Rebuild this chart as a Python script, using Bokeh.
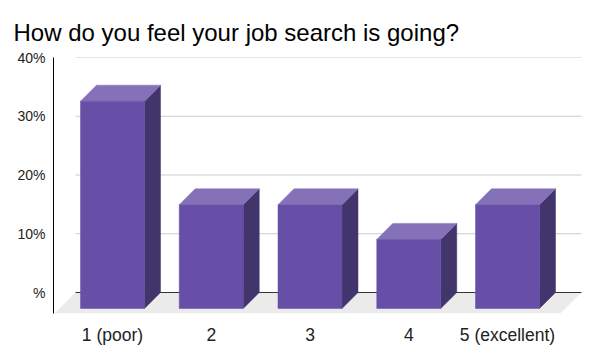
from bokeh.plotting import figure
from bokeh.models import FixedTicker, Range1d
from bokeh.embed import file_html
from bokeh.resources import INLINE

# ---- data ----
title_text = "How do you feel your job search is going?"
categories = ["1 (poor)", "2", "3", "4", "5 (excellent)"]
values = [35.29, 17.65, 17.65, 11.76, 17.65]   # percent of responses
y_ticks = [0, 10, 20, 30, 40]
y_tick_labels = ["%", "10%", "20%", "30%", "40%"]

# ---- layout constants ----
W, H = 600, 352
B_LEFT, B_RIGHT, B_TOP, B_BOTTOM = 53, 10, 57, 39
FW = W - B_LEFT - B_RIGHT
FH = H - B_TOP - B_BOTTOM
PX_X = 98.75                 # pixels per category step
PX_Y = (292 - 57) / 40.0     # pixels per percent
x_start = 1 - (112 - B_LEFT) / PX_X
x_end = x_start + FW / PX_X
y_end = 40.0
y_start = y_end - FH / PX_Y


def dx(px):
    return px / PX_X


def dy(px):
    return px / PX_Y


def X(px):
    return x_start + (px - B_LEFT) / PX_X


FRONT = "#674ea7"
TOP = "#8571b8"
SIDE = "#42356c"

p = figure(width=W, height=H, output_backend="svg", toolbar_location=None,
           x_range=Range1d(x_start, x_end), y_range=Range1d(y_start, y_end),
           min_border_left=B_LEFT, min_border_right=B_RIGHT,
           min_border_top=B_TOP, min_border_bottom=B_BOTTOM,
           title=title_text)
p.outline_line_color = None
p.grid.visible = False
p.background_fill_color = "white"
p.border_fill_color = "white"

p.title.text_font = "Liberation Sans"
p.title.text_font_size = "24px"
p.title.text_font_style = "normal"
p.title.text_color = "#000000"
p.title.align = "left"
p.title.vertical_align = "top"
p.title.offset = -40
p.title.standoff = 20

# floor
depth_floor = 20
p.patch([X(75), X(581), X(581 - depth_floor), X(75 - depth_floor)],
        [0, 0, -dy(depth_floor), -dy(depth_floor)],
        fill_color="#ebebeb", line_color=None)
p.segment(x0=[X(55)], y0=[y_start + dy(0.6)], x1=[X(561)], y1=[y_start + dy(0.6)],
          line_color="#d8d8d8", line_width=1, line_dash="1 1")

# gridlines on back wall
grid_y = [t for t in y_ticks if t > 0]
p.segment(x0=[X(75)] * len(grid_y), y0=grid_y, x1=[X(581)] * len(grid_y), y1=grid_y,
          line_color="#cccccc", line_width=1)
p.segment(x0=[X(75)], y0=[0], x1=[X(581)], y1=[0], line_color="#333333", line_width=1)

# 3D bars
D = 16
hw = dx(32)
xs = list(range(1, len(categories) + 1))
side_xs, side_ys, top_xs, top_ys = [], [], [], []
lefts, rights, bottoms, tops = [], [], [], []
for x, v in zip(xs, values):
    l, r = x - hw, x + hw
    b, t = -dy(D), v - dy(D)
    lefts.append(l); rights.append(r); bottoms.append(b); tops.append(t)
    side_xs.append([r, r + dx(D), r + dx(D), r])
    side_ys.append([b, 0, v, t])
    top_xs.append([l, r, r + dx(D), l + dx(D)])
    top_ys.append([t, t, v, v])

p.patches(side_xs, side_ys, fill_color=SIDE, line_color=SIDE, line_width=0.5)
p.patches(top_xs, top_ys, fill_color=TOP, line_color=TOP, line_width=0.5)
p.quad(left=lefts, right=rights, bottom=bottoms, top=tops,
       fill_color=FRONT, line_color=FRONT, line_width=0.5)

# axes
p.yaxis.ticker = FixedTicker(ticks=y_ticks)
p.yaxis.major_label_overrides = {t: s for t, s in zip(y_ticks, y_tick_labels)}
p.yaxis.axis_line_color = "#000000"
p.yaxis.axis_line_width = 1
p.yaxis.major_tick_line_color = None
p.yaxis.minor_tick_line_color = None
p.yaxis.major_tick_out = 0
p.yaxis.major_tick_in = 0
p.yaxis.major_label_standoff = 8
p.yaxis.major_label_text_font = "Liberation Sans"
p.yaxis.major_label_text_font_size = "14px"
p.yaxis.major_label_text_color = "#222222"

p.xaxis.ticker = FixedTicker(ticks=xs)
p.xaxis.major_label_overrides = {x: c for x, c in zip(xs, categories)}
p.xaxis.axis_line_color = None
p.xaxis.major_tick_line_color = None
p.xaxis.minor_tick_line_color = None
p.xaxis.major_tick_out = 0
p.xaxis.major_tick_in = 0
p.xaxis.major_label_standoff = 11
p.xaxis.major_label_text_font = "Liberation Sans"
p.xaxis.major_label_text_font_size = "17.5px"
p.xaxis.major_label_text_color = "#222222"

open("out.html", "w").write(file_html(p, INLINE))
